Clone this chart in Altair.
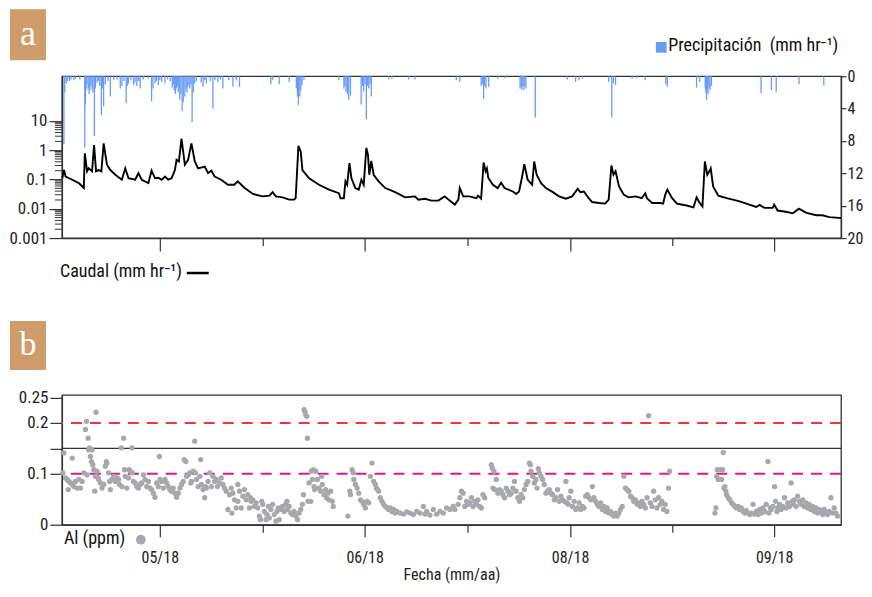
import json
import altair as alt
import pandas as pd

# ---------------- data ----------------
# Discharge (Caudal, mm/hr) – day index from start of record
q_day = [0.05, 0.29, 0.53, 1.49, 2.45, 3.17, 3.32, 3.65, 3.89, 4.37,
         4.66, 4.95, 5.33, 5.72, 6.05, 6.53, 7.02, 7.74, 8.69, 9.18,
         9.66, 10.62, 11.1, 11.57, 12.54, 13.0, 13.5, 13.98, 14.46, 14.94,
         15.42, 15.9, 16.39, 16.62, 16.96, 17.34, 17.58, 17.83, 18.3, 18.78,
         19.27, 19.75, 20.71, 21.19, 21.67, 22.15, 23.1, 24.07, 25.0, 25.5,
         26.5, 27.7, 29.1, 30.1, 30.56, 31.03, 32.0, 32.96, 33.68, 33.9,
         34.3, 34.64, 34.88, 35.85, 37.29, 38.73, 40.17, 40.4, 40.89, 41.12,
         41.37, 41.7, 41.99, 42.56, 43.05, 43.43, 43.77, 44.15, 44.39, 44.58,
         44.87, 45.21, 45.94, 46.89, 48.33, 49.77, 51.2, 51.7, 52.65, 53.6,
         54.6, 55.5, 56.5, 57.0, 57.5, 57.7, 58.2, 59.1, 60.1, 60.35,
         60.8, 61.16, 61.45, 61.64, 61.83, 62.5, 63.2, 63.7, 64.2, 65.4,
         65.9, 66.3, 66.7, 67.07, 67.55, 68.2, 68.5, 68.85, 69.5, 70.2,
         71.2, 72.1, 73.1, 74.0, 74.8, 75.2, 75.7, 76.4, 76.9, 77.9,
         78.8, 79.3, 79.7, 80.0, 80.3, 80.8, 81.5, 82.2, 83.2, 84.1,
         84.6, 84.85, 85.6, 86.8, 87.2, 87.5, 87.8, 88.5, 89.2, 90.6,
         91.6, 92.05, 92.5, 92.9, 93.25, 93.6, 93.9, 94.1, 94.45, 95.2,
         96.4, 97.3, 98.3, 99.7, 100.7, 101.2, 101.9, 103.1, 103.3, 103.8,
         105.0, 106.0, 106.9, 107.9, 109.4, 110.3, 111.3, 112.7, 113.0]
q_val = [0.11, 0.21, 0.126, 0.098, 0.075, 0.051, 0.78, 0.19, 0.24, 0.19,
         1.5, 0.19, 0.21, 0.19, 1.7, 0.32, 0.21, 0.145, 0.098, 0.24,
         0.11, 0.098, 0.165, 0.098, 0.075, 0.20, 0.11, 0.115, 0.098, 0.126,
         0.098, 0.11, 0.21, 0.47, 0.41, 2.5, 0.89, 0.32, 0.47, 1.7,
         0.41, 0.24, 0.275, 0.165, 0.20, 0.126, 0.098, 0.066, 0.066, 0.086,
         0.051, 0.032, 0.0265, 0.028, 0.037, 0.0265, 0.0245, 0.0205, 0.0205, 0.023,
         1.42, 0.89, 0.21, 0.11, 0.066, 0.045, 0.034, 0.023, 0.023, 0.086,
         0.066, 0.36, 0.11, 0.051, 0.045, 0.098, 0.066, 1.2, 0.69, 0.145,
         0.43, 0.145, 0.086, 0.051, 0.037, 0.0245, 0.0265, 0.0205, 0.022, 0.019,
         0.019, 0.0265, 0.017, 0.0139, 0.0205, 0.051, 0.0265, 0.0265, 0.023, 0.028,
         0.022, 0.38, 0.19, 0.24, 0.115, 0.066, 0.051, 0.078, 0.051, 0.039,
         0.032, 0.039, 0.11, 0.33, 0.098, 0.066, 0.41, 0.145, 0.075, 0.051,
         0.037, 0.0265, 0.022, 0.0265, 0.048, 0.037, 0.039, 0.023, 0.017, 0.0158,
         0.015, 0.0205, 0.30, 0.145, 0.19, 0.058, 0.03, 0.0245, 0.0265, 0.023,
         0.034, 0.023, 0.0158, 0.0158, 0.015, 0.03, 0.045, 0.023, 0.015, 0.0129,
         0.0112, 0.0245, 0.0158, 0.012, 0.41, 0.145, 0.19, 0.24, 0.058, 0.028,
         0.023, 0.0205, 0.018, 0.0139, 0.0115, 0.0135, 0.0107, 0.0107, 0.0139, 0.0087,
         0.0079, 0.007, 0.0101, 0.0074, 0.006, 0.006, 0.0052, 0.0049, 0.0049]

# Precipitation (mm/hr)
p_day = [0.29, 0.4, 0.62, 0.8, 1.1, 1.3, 1.73, 2.0, 2.6, 3.32,
         3.4, 3.5, 3.6, 3.8, 3.95, 4.04, 4.2, 4.37, 4.5, 4.71,
         4.85, 5.1, 5.3, 5.5, 5.72, 5.9, 6.05, 6.3, 6.7, 7.02,
         7.5, 8.0, 8.46, 8.7, 9.0, 9.32, 9.5, 9.66, 10.0, 10.38,
         10.6, 10.86, 11.1, 11.34, 11.8, 12.5, 13.0, 13.2, 13.5, 13.7,
         13.98, 14.2, 14.46, 14.94, 15.3, 15.7, 16.0, 16.15, 16.3, 16.45,
         16.6, 16.75, 16.86, 17.0, 17.1, 17.25, 17.44, 17.6, 17.83, 18.0,
         18.15, 18.3, 18.55, 18.7, 18.88, 19.05, 19.27, 19.5, 20.2, 20.47,
         20.7, 20.95, 21.5, 21.9, 22.2, 22.63, 23.0, 23.35, 24.2, 24.8,
         25.3, 25.75, 30.3, 30.56, 31.5, 32.96, 34.0, 34.16, 34.3, 34.5,
         34.65, 34.8, 35.1, 40.17, 40.9, 41.05, 41.2, 41.4, 41.6, 41.85,
         43.4, 43.6, 43.77, 43.95, 44.15, 44.3, 44.5, 44.7, 44.87, 47.4,
         47.85, 50.3, 51.2, 57.2, 57.7, 60.8, 61.0, 61.16, 61.3, 61.5,
         61.9, 63.2, 64.2, 66.45, 66.6, 66.7, 66.85, 67.0, 67.15, 67.3,
         68.65, 73.3, 74.5, 75.0, 75.5, 79.3, 79.75, 80.0, 80.3, 82.7,
         83.4, 84.6, 87.6, 87.8, 92.05, 92.5, 93.3, 93.4, 93.5, 93.6,
         93.7, 93.85, 94.0, 94.2, 101.4, 102.9, 103.6, 106.9, 110.5]
p_val = [8.4, 2.0, 0.85, 0.6, 0.6, 0.4, 0.5, 0.3, 0.4, 8.8,
         3.5, 1.7, 1.0, 1.5, 2.2, 1.8, 1.2, 1.6, 2.0, 7.4,
         1.5, 0.8, 0.6, 1.2, 4.8, 1.5, 3.7, 1.0, 0.6, 2.5,
         0.5, 0.4, 1.5, 1.2, 0.6, 3.3, 1.2, 0.9, 0.5, 1.1,
         0.8, 1.2, 0.6, 1.5, 0.4, 0.3, 3.1, 1.5, 0.9, 0.6,
         1.1, 0.5, 0.7, 0.9, 0.4, 0.6, 1.4, 1.0, 1.8, 2.2,
         1.5, 1.2, 2.0, 1.6, 2.9, 2.2, 4.3, 3.2, 2.5, 1.6,
         2.0, 1.3, 1.5, 1.0, 5.7, 2.0, 0.9, 0.6, 0.8, 1.3,
         0.5, 0.9, 0.6, 4.0, 0.5, 0.7, 0.4, 1.5, 0.5, 1.3,
         0.5, 1.3, 1.0, 0.5, 1.0, 0.7, 1.5, 2.5, 3.6, 2.5,
         1.8, 1.1, 0.5, 0.5, 1.5, 1.2, 1.9, 2.2, 2.9, 2.4,
         3.5, 1.2, 1.9, 1.0, 5.3, 1.2, 1.5, 1.0, 2.5, 0.4,
         0.3, 0.4, 0.4, 0.5, 0.7, 1.2, 1.0, 2.8, 1.2, 1.5,
         1.3, 0.3, 0.25, 1.5, 1.2, 1.7, 1.3, 1.7, 1.2, 1.5,
         5.1, 0.4, 0.7, 0.5, 0.3, 0.7, 5.1, 0.9, 1.1, 0.3,
         0.25, 0.5, 1.0, 1.3, 1.4, 0.7, 1.5, 2.0, 2.9, 1.8,
         2.2, 1.4, 1.7, 1.2, 2.1, 1.7, 1.9, 1.0, 1.1]

# Aluminium (ppm)
al_day = [0.29, 0.14, 0.53, 0.77, 0.91, 1.01, 1.25, 1.49, 1.49, 1.73,
          1.97, 2.21, 2.45, 2.69, 2.93, 3.17, 3.41, 3.56, 3.65, 3.80,
          3.89, 3.99, 4.13, 4.28, 4.37, 4.47, 4.61, 4.76, 4.85, 4.95,
          5.09, 5.24, 5.33, 5.57, 5.81, 6.05, 6.29, 6.44, 6.53, 6.78,
          6.92, 7.02, 7.26, 7.50, 7.74, 7.98, 8.22, 8.36, 8.60, 8.70,
          8.94, 9.08, 9.18, 9.42, 9.66, 9.75, 9.90, 10.14, 10.23, 10.38,
          10.62, 10.86, 11.10, 11.34, 11.58, 11.82, 12.06, 12.30, 12.54, 12.78,
          13.02, 13.26, 13.50, 13.74, 13.98, 14.13, 14.22, 14.46, 14.70, 14.94,
          15.18, 15.42, 15.66, 15.90, 16.14, 16.39, 16.63, 16.87, 17.11, 17.35,
          17.59, 17.73, 17.97, 18.07, 18.31, 18.55, 18.69, 18.79, 19.03, 19.27,
          19.36, 19.51, 19.75, 19.99, 20.13, 20.23, 20.47, 20.71, 20.81, 20.95,
          21.19, 21.43, 21.67, 21.91, 22.15, 22.39, 22.54, 22.87, 23.11, 23.35,
          23.59, 23.83, 24.07, 24.31, 24.55, 24.65, 24.79, 25.03, 25.27, 25.52,
          25.52, 25.76, 26.00, 26.24, 26.48, 26.72, 26.96, 27.20, 27.34, 27.44,
          27.68, 27.92, 28.16, 28.40, 28.64, 28.78, 28.97, 29.12, 29.36, 29.60,
          29.74, 29.94, 30.08, 30.32, 30.56, 30.80, 31.04, 31.18, 31.38, 31.52,
          31.76, 32.00, 32.24, 32.48, 32.63, 32.72, 32.96, 33.20, 33.44, 33.68,
          33.92, 34.16, 34.40, 34.64, 34.88, 35.03, 35.12, 35.22, 35.36, 35.51,
          35.60, 35.70, 35.85, 36.09, 36.18, 36.33, 36.47, 36.57, 36.66, 36.81,
          37.05, 37.29, 37.53, 37.67, 37.77, 38.01, 38.25, 38.39, 38.58, 38.73,
          38.97, 39.21, 39.35, 41.47, 41.76, 41.85, 42.09, 42.24, 42.33, 42.57,
          42.81, 43.05, 43.29, 43.53, 43.77, 44.01, 44.25, 44.49, 44.73, 44.97,
          45.21, 45.45, 45.60, 45.79, 45.93, 46.18, 46.42, 46.66, 46.90, 47.14,
          47.38, 47.62, 47.86, 48.10, 48.34, 48.58, 49.06, 49.54, 50.02, 50.50,
          50.98, 51.46, 51.94, 52.42, 52.66, 52.90, 53.38, 53.86, 54.34, 54.83,
          55.31, 55.79, 56.27, 56.75, 56.99, 57.47, 57.71, 57.95, 58.19, 58.43,
          58.67, 58.91, 59.15, 59.39, 59.63, 59.87, 60.11, 60.35, 60.59, 60.83,
          61.07, 61.32, 62.28, 62.42, 62.52, 62.66, 62.76, 63.00, 63.24, 63.48,
          63.72, 63.96, 64.20, 64.44, 64.68, 64.92, 65.16, 65.40, 65.64, 65.88,
          66.12, 66.36, 66.60, 66.84, 67.08, 67.32, 67.56, 67.80, 67.95, 68.04,
          68.28, 68.52, 68.76, 68.91, 69.10, 69.24, 69.48, 69.72, 69.96, 70.20,
          70.44, 70.68, 70.92, 71.16, 71.41, 71.65, 71.89, 72.13, 72.37, 72.61,
          72.85, 73.09, 73.23, 73.42, 73.57, 73.81, 74.05, 74.29, 74.53, 74.77,
          75.01, 75.25, 75.49, 75.73, 75.97, 76.21, 76.45, 76.69, 76.93, 77.17,
          77.41, 77.65, 77.89, 78.13, 78.37, 78.61, 78.85, 79.09, 79.33, 79.57,
          79.81, 80.05, 80.29, 80.54, 80.78, 81.02, 81.26, 81.50, 81.74, 81.98,
          82.22, 82.46, 82.70, 82.94, 83.18, 83.42, 83.66, 83.90, 84.14, 84.38,
          84.62, 84.86, 85.10, 85.34, 85.58, 85.82, 86.06, 86.30, 86.54, 86.78,
          87.02, 87.26, 87.50, 87.74, 87.98, 88.13, 94.71, 94.85, 94.95, 95.05,
          95.19, 95.43, 95.67, 95.82, 95.92, 96.01, 96.15, 96.30, 96.39, 96.63,
          96.87, 97.11, 97.35, 97.59, 97.83, 98.07, 98.31, 98.55, 98.79, 99.03,
          99.27, 99.51, 99.76, 100.00, 100.24, 100.48, 100.72, 100.96, 101.20, 101.44,
          101.68, 101.92, 102.16, 102.40, 102.54, 102.73, 102.88, 103.12, 103.36, 103.50,
          103.70, 103.84, 104.08, 104.32, 104.56, 104.80, 105.04, 105.28, 105.52, 105.76,
          105.90, 106.10, 106.24, 106.48, 106.72, 106.96, 107.20, 107.44, 107.68, 107.92,
          108.16, 108.40, 108.64, 108.88, 109.12, 109.36, 109.60, 109.85, 110.09, 110.33,
          110.57, 110.81, 111.05, 111.29, 111.53, 111.77, 112.01, 112.25, 112.49]
al_val = [0.141, 0.102, 0.092, 0.089, 0.069, 0.085, 0.082, 0.131, 0.079, 0.075,
          0.085, 0.072, 0.089, 0.072, 0.085, 0.102, 0.187, 0.203, 0.098, 0.170,
          0.147, 0.151, 0.134, 0.124, 0.147, 0.118, 0.108, 0.066, 0.095, 0.221,
          0.105, 0.092, 0.089, 0.082, 0.072, 0.079, 0.115, 0.124, 0.121, 0.102,
          0.085, 0.069, 0.089, 0.095, 0.085, 0.092, 0.089, 0.079, 0.151, 0.075,
          0.170, 0.108, 0.095, 0.072, 0.092, 0.108, 0.105, 0.151, 0.102, 0.085,
          0.082, 0.075, 0.072, 0.079, 0.082, 0.098, 0.089, 0.075, 0.085, 0.072,
          0.069, 0.062, 0.054, 0.082, 0.075, 0.134, 0.089, 0.085, 0.072, 0.089,
          0.082, 0.075, 0.069, 0.066, 0.072, 0.062, 0.054, 0.062, 0.072, 0.079,
          0.085, 0.128, 0.124, 0.095, 0.098, 0.102, 0.082, 0.085, 0.105, 0.164,
          0.102, 0.089, 0.075, 0.095, 0.128, 0.079, 0.069, 0.053, 0.075, 0.072,
          0.085, 0.102, 0.075, 0.095, 0.085, 0.089, 0.075, 0.082, 0.092, 0.079,
          0.072, 0.066, 0.030, 0.059, 0.072, 0.023, 0.062, 0.049, 0.033, 0.079,
          0.046, 0.066, 0.033, 0.056, 0.069, 0.049, 0.059, 0.033, 0.053, 0.046,
          0.049, 0.036, 0.043, 0.033, 0.017, 0.010, 0.046, 0.040, 0.026, 0.010,
          0.020, 0.036, 0.013, 0.030, 0.040, 0.020, 0.007, 0.026, 0.033, 0.010,
          0.030, 0.036, 0.026, 0.040, 0.046, 0.030, 0.036, 0.023, 0.020, 0.026,
          0.017, 0.010, 0.023, 0.030, 0.040, 0.059, 0.226, 0.223, 0.216, 0.213,
          0.170, 0.046, 0.082, 0.046, 0.105, 0.089, 0.108, 0.075, 0.069, 0.105,
          0.089, 0.072, 0.066, 0.095, 0.079, 0.059, 0.069, 0.053, 0.062, 0.049,
          0.066, 0.046, 0.036, 0.017, 0.066, 0.059, 0.108, 0.102, 0.089, 0.079,
          0.072, 0.062, 0.049, 0.046, 0.040, 0.033, 0.046, 0.043, 0.095, 0.121,
          0.085, 0.079, 0.072, 0.069, 0.066, 0.053, 0.046, 0.040, 0.036, 0.033,
          0.030, 0.033, 0.026, 0.030, 0.023, 0.026, 0.023, 0.021, 0.025, 0.023,
          0.020, 0.026, 0.023, 0.036, 0.021, 0.026, 0.019, 0.030, 0.021, 0.026,
          0.023, 0.033, 0.030, 0.036, 0.030, 0.040, 0.053, 0.066, 0.062, 0.036,
          0.046, 0.040, 0.043, 0.053, 0.036, 0.046, 0.040, 0.049, 0.036, 0.033,
          0.059, 0.053, 0.118, 0.111, 0.072, 0.105, 0.069, 0.089, 0.062, 0.069,
          0.066, 0.059, 0.053, 0.072, 0.066, 0.059, 0.062, 0.072, 0.085, 0.066,
          0.053, 0.046, 0.059, 0.053, 0.069, 0.079, 0.085, 0.121, 0.118, 0.105,
          0.095, 0.082, 0.089, 0.072, 0.110, 0.102, 0.095, 0.089, 0.079, 0.062,
          0.066, 0.069, 0.062, 0.059, 0.049, 0.053, 0.069, 0.046, 0.056, 0.049,
          0.046, 0.085, 0.043, 0.040, 0.053, 0.066, 0.036, 0.046, 0.030, 0.033,
          0.043, 0.030, 0.036, 0.033, 0.056, 0.059, 0.053, 0.049, 0.075, 0.053,
          0.046, 0.040, 0.036, 0.043, 0.030, 0.036, 0.026, 0.033, 0.023, 0.026,
          0.020, 0.017, 0.023, 0.017, 0.023, 0.030, 0.036, 0.095, 0.072, 0.069,
          0.066, 0.056, 0.053, 0.046, 0.049, 0.040, 0.043, 0.036, 0.046, 0.040,
          0.033, 0.053, 0.214, 0.043, 0.036, 0.066, 0.049, 0.033, 0.053, 0.040,
          0.046, 0.030, 0.040, 0.026, 0.072, 0.105, 0.023, 0.033, 0.095, 0.108,
          0.089, 0.108, 0.089, 0.108, 0.142, 0.072, 0.075, 0.066, 0.059, 0.053,
          0.049, 0.043, 0.040, 0.036, 0.033, 0.036, 0.030, 0.033, 0.026, 0.023,
          0.028, 0.023, 0.020, 0.023, 0.040, 0.021, 0.026, 0.020, 0.030, 0.023,
          0.033, 0.026, 0.040, 0.124, 0.023, 0.033, 0.030, 0.036, 0.075, 0.046,
          0.026, 0.033, 0.040, 0.030, 0.036, 0.053, 0.033, 0.043, 0.036, 0.082,
          0.046, 0.040, 0.049, 0.036, 0.056, 0.046, 0.040, 0.049, 0.036, 0.043,
          0.033, 0.040, 0.030, 0.036, 0.026, 0.033, 0.023, 0.030, 0.026, 0.020,
          0.030, 0.023, 0.020, 0.026, 0.053, 0.023, 0.033, 0.023, 0.017]

# guide lines for Al (ppm)
al_thresholds = [0.2, 0.1]
al_threshold_colors = ["#F2353B", "#E4148A"]
al_break = [0.15]

# axes: tick positions (days) and their labels
x_tick_days = [14.2, 29.2, 43.9, 58.9, 73.7, 88.6, 103.3]
x_tick_labels = ["05/18", "", "06/18", "", "08/18", "", "09/18"]
q_major = [0.001, 0.01, 0.1, 1, 10]
q_minor = [m * 10.0 ** e for e in range(-3, 1) for m in range(2, 10)]
p_ticks = [0, 4, 8, 12, 16, 20]
al_ticks = [0, 0.1, 0.15, 0.2, 0.25]

# ---------------- styling ----------------
FONT = "'Roboto Condensed', 'Liberation Sans Narrow', 'Arial Narrow', 'DejaVu Sans Condensed', Roboto, sans-serif"
BLUE = "#6A9BF6"
GRAY = "#A7A8AC"
BROWN = "#CF9C6B"
AXC = "#333333"
W, HA, HB = 780, 162, 130

x_major = [d for d, l in zip(x_tick_days, x_tick_labels) if l]
x_labels = [l for l in x_tick_labels if l]
x_minor = [d for d, l in zip(x_tick_days, x_tick_labels) if not l]

xscale = alt.Scale(domain=[0, 113.0], nice=False, zero=False)
qscale = alt.Scale(type="log", domain=[0.001, 334], nice=False)
pscale = alt.Scale(domain=[0, 20], reverse=True, nice=False, zero=False)
alscale = alt.Scale(domain=[0, 0.255], nice=False, zero=False)

df_q = pd.DataFrame({"day": q_day, "Q": q_val})
df_p = pd.DataFrame({"day": p_day, "P": p_val})
df_al = pd.DataFrame({"day": al_day, "Al": al_val})
df_qminor = pd.DataFrame({"v": q_minor})
df_xminor = pd.DataFrame({"day": x_minor})
df_thr = pd.DataFrame({"v": al_thresholds, "c": al_threshold_colors})
df_brk = pd.DataFrame({"v": al_break})
one = pd.DataFrame({"k": [0]})

x_axis_a = alt.Axis(values=x_major, labels=False, tickSize=13, title=None, grid=False)
label_expr = "%s[indexof(%s, datum.value)]" % (json.dumps(x_labels), json.dumps(x_major))
x_axis_b = alt.Axis(values=x_major, labelExpr=label_expr, tickSize=12, labelPadding=13,
                    labelFontSize=16, title="Fecha (mm/aa)", titlePadding=1, grid=False)
q_axis = alt.Axis(values=q_major, format="~g", tickSize=13, labelPadding=2,
                  title=None, grid=False)
p_axis = alt.Axis(orient="right", values=p_ticks, tickSize=5, labelPadding=1,
                  labelFontSize=16, title=None, grid=False)
al_axis = alt.Axis(values=al_ticks, tickSize=12, labelPadding=2, title=None, grid=False,
                   labelExpr="datum.value == 0.15 ? '' : format(datum.value, '~g')")

# ---------------- panel a ----------------
precip = alt.Chart(df_p).mark_rule(color=BLUE, strokeWidth=1.3).encode(
    x=alt.X("day:Q", scale=xscale, axis=x_axis_a),
    y=alt.Y("P:Q", scale=pscale, axis=p_axis),
    y2=alt.datum(0),
)
flow = alt.Chart(df_q).mark_line(color="black", strokeWidth=1.9).encode(
    x=alt.X("day:Q", scale=xscale, axis=x_axis_a),
    y=alt.Y("Q:Q", scale=qscale, axis=q_axis),
)
qminor = alt.Chart(df_qminor).mark_rule(color=AXC, strokeWidth=1).encode(
    y=alt.Y("v:Q", scale=qscale, axis=q_axis),
    x=alt.value(-7), x2=alt.value(0),
)
xminor_a = alt.Chart(df_xminor).mark_rule(color=AXC, strokeWidth=1.2).encode(
    x=alt.X("day:Q", scale=xscale, axis=x_axis_a),
    y=alt.value(HA), y2=alt.value(HA + 8),
)
box_a = alt.Chart(one).mark_rect(color=BROWN).encode(
    x=alt.value(-52), x2=alt.value(-16), y=alt.value(-67), y2=alt.value(-16))
lab_a = alt.Chart(one).mark_text(text="a", color="white", font="Liberation Serif",
                                 fontSize=36, align="center", baseline="alphabetic").encode(
    x=alt.value(-34), y=alt.value(-31))
leg_sq = alt.Chart(one).mark_square(color=BLUE, size=115, opacity=1).encode(
    x=alt.value(600), y=alt.value(-29))
leg_p = alt.Chart(one).mark_text(text="Precipitación\u00a0 (mm hr\u207b\u00b9)", font=FONT,
                                 fontSize=18, color="#111", align="left", baseline="middle").encode(
    x=alt.value(607), y=alt.value(-30))
leg_q = alt.Chart(one).mark_text(text="Caudal (mm hr\u207b\u00b9)", font=FONT, fontSize=18,
                                 color="#111", align="left", baseline="middle").encode(
    x=alt.value(-2), y=alt.value(196))
leg_q_line = alt.Chart(one).mark_rule(color="black", strokeWidth=2.5).encode(
    x=alt.value(125), x2=alt.value(147), y=alt.value(197))

panel_a = alt.layer(
    precip, alt.layer(flow, qminor), xminor_a, box_a, lab_a, leg_sq, leg_p, leg_q, leg_q_line
).resolve_scale(y="independent").properties(width=W, height=HA)

# ---------------- panel b ----------------
thr = alt.Chart(df_thr).mark_rule(strokeWidth=2, strokeDash=[11, 8]).encode(
    y=alt.Y("v:Q", scale=alscale, axis=al_axis),
    color=alt.Color("c:N", scale=None),
)
brk = alt.Chart(df_brk).mark_rule(color=AXC, strokeWidth=1.2).encode(
    y=alt.Y("v:Q", scale=alscale, axis=al_axis),
)
pts = alt.Chart(df_al).mark_circle(color=GRAY, size=28, opacity=1).encode(
    x=alt.X("day:Q", scale=xscale, axis=x_axis_b),
    y=alt.Y("Al:Q", scale=alscale, axis=al_axis),
)
xminor_b = alt.Chart(df_xminor).mark_rule(color=AXC, strokeWidth=1.2).encode(
    x=alt.X("day:Q", scale=xscale, axis=x_axis_b),
    y=alt.value(HB), y2=alt.value(HB + 8),
)
box_b = alt.Chart(one).mark_rect(color=BROWN).encode(
    x=alt.value(-52), x2=alt.value(-16), y=alt.value(-74), y2=alt.value(-25))
lab_b = alt.Chart(one).mark_text(text="b", color="white", font="Liberation Serif",
                                 fontSize=34, align="center", baseline="alphabetic").encode(
    x=alt.value(-34), y=alt.value(-40))
leg_al = alt.Chart(one).mark_text(text="Al (ppm)", font=FONT, fontSize=18, color="#111",
                                  align="left", baseline="middle").encode(
    x=alt.value(2), y=alt.value(144))
leg_al_pt = alt.Chart(one).mark_circle(color=GRAY, size=95, opacity=1).encode(
    x=alt.value(79), y=alt.value(145))

panel_b = alt.layer(thr, brk, pts, xminor_b, box_b, lab_b, leg_al, leg_al_pt).properties(
    width=W, height=HB)

chart = alt.vconcat(panel_a, panel_b, spacing=157, bounds="flush").properties(
    padding={"left": 0, "top": 0, "right": 0, "bottom": 0}
).configure_view(stroke=AXC, strokeWidth=1.3).configure_axis(
    labelFont=FONT, labelFontSize=17, labelColor="#222", domainColor=AXC, tickColor=AXC,
    domainWidth=1.3, tickWidth=1.2, titleFont=FONT, titleFontSize=16,
    titleFontWeight="normal", titleColor="#222"
)

chart.save("out.html", embed_options={"renderer": "svg", "actions": False})
